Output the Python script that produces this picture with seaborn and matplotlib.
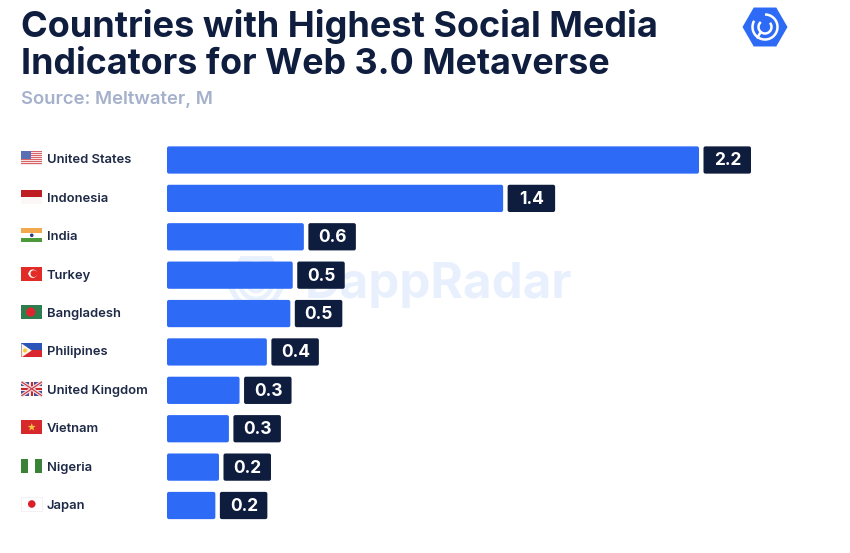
import numpy as np
import pandas as pd
import matplotlib
matplotlib.use("Agg")
import matplotlib.pyplot as plt
from matplotlib.patches import FancyBboxPatch, Rectangle, Circle, Polygon, Arc, RegularPolygon
from matplotlib.transforms import ScaledTranslation
import seaborn as sns

countries = ["United States", "Indonesia", "India", "Turkey", "Bangladesh",
             "Philipines", "United Kingdom", "Vietnam", "Nigeria", "Japan"]
values = [2.2, 1.39, 0.566, 0.52, 0.51, 0.413, 0.30, 0.256, 0.215, 0.2]
value_labels = ["2.2", "1.4", "0.6", "0.5", "0.5", "0.4", "0.3", "0.3", "0.2", "0.2"]
title_lines = ["Countries with Highest Social Media", "Indicators for Web 3.0 Metaverse"]
source = "Source: Meltwater, M"

BLUE = "#2D6BF6"
NAVY = "#0E1C3D"
W, H = 850, 553

sns.set_theme(style="white")
plt.rcParams["font.family"] = ["Inter", "DejaVu Sans"]
fig = plt.figure(figsize=(W / 100, H / 100), dpi=100, facecolor="white")

def px_axes(l, t, r, b):
    return fig.add_axes([l / W, 1 - b / H, (r - l) / W, (b - t) / H])

# background watermark layer
bg = px_axes(0, 0, W, H)
bg.set_xlim(0, W); bg.set_ylim(H, 0); bg.axis("off"); bg.set_zorder(0)
WM = "#E9F0FD"
bg.add_patch(RegularPolygon((256, 283), 6, radius=31, orientation=np.pi / 6, color=WM, lw=0))
for r in (20, 12, 5):
    bg.add_patch(Arc((256, 283), 2 * r, 2 * r, lw=2.5, color="#FFFFFF"))
bg.text(305, 285, "DappRadar", fontsize=35.5, fontweight="bold", color=WM, va="center", ha="left")

# bars
ax = px_axes(167, 140.8, 800, 524.7)
ax.set_zorder(1); ax.patch.set_alpha(0)
df = pd.DataFrame({"country": countries, "value": values})
sns.barplot(data=df, y="country", x="value", color=BLUE, width=0.71, saturation=1,
            orient="h", ax=ax)
ax.set_xlim(0, 2.2 * 633 / 532)
ax.set_xlabel(""); ax.set_ylabel("")
ax.xaxis.set_visible(False)
sns.despine(ax=ax, left=True, bottom=True)
ax.tick_params(axis="y", length=0, pad=86.4)
for lab in ax.get_yticklabels():
    lab.set_ha("left")
    lab.set_fontsize(9.35)
    lab.set_fontweight("semibold")
    lab.set_color("#1F2A47")
    lab.set_transform(lab.get_transform() + ScaledTranslation(0, 1 / 100, fig.dpi_scale_trans))

# overlay in pixel coordinates
ov = px_axes(0, 0, W, H)
ov.set_xlim(0, W); ov.set_ylim(H, 0); ov.axis("off"); ov.set_zorder(2)
to_px = lambda xy: ov.transData.inverted().transform(ax.transData.transform(xy))

def rbox(x0, y0, x1, y1, color, r=2.0):
    ov.add_patch(FancyBboxPatch((x0 + r, y0 + r), x1 - x0 - 2 * r, y1 - y0 - 2 * r,
                                boxstyle=f"round,pad={r},rounding_size={r}",
                                fc=color, ec="none"))

for bar, lab in zip(list(ax.patches)[:len(values)], value_labels):
    b = bar.get_bbox()
    (x0, y0), (x1, y1) = to_px((b.x0, b.y0)), to_px((b.x1, b.y1))
    top, bot = min(y0, y1), max(y0, y1)
    bar.set_visible(False)
    rbox(x0, top, x1, bot, BLUE)
    rbox(x1 + 4.5, top, x1 + 52, bot, NAVY)
    ov.text(x1 + 28.5, (top + bot) / 2 + 1, lab, color="white", fontsize=12.5,
            fontweight="bold", ha="center", va="center")

# flags
def flag(name, yc):
    L, R, T, B = 21.5, 42, yc - 7, yc + 7
    w, h = R - L, B - T
    def rect(x, y, ww, hh, c):
        ov.add_patch(Rectangle((L + x * w, T + y * h), ww * w, hh * h, fc=c, ec="none"))
    if name == "United States":
        for i in range(7):
            rect(0, i / 7, 1, 1 / 14, "#D9646A")
            rect(0, i / 7 + 1 / 14, 1, 1 / 14, "#F6E4E4")
        rect(0, 0, 0.48, 0.52, "#5B6FB5")
    elif name == "Indonesia":
        rect(0, 0, 1, 0.5, "#BE1E23"); rect(0, 0.5, 1, 0.5, "#FBF7F7")
    elif name == "India":
        rect(0, 0, 1, 1 / 3, "#F2A94E"); rect(0, 1 / 3, 1, 1 / 3, "#FFFFFF")
        rect(0, 2 / 3, 1, 1 / 3, "#4C9A3A")
        ov.add_patch(Circle((L + w / 2, yc), 1.8, fc="#2A3C8C", ec="none"))
    elif name == "Turkey":
        rect(0, 0, 1, 1, "#E02B27")
        ov.add_patch(Circle((L + w * 0.55, yc), 4.2, fc="white", ec="none"))
        ov.add_patch(Circle((L + w * 0.60, yc), 3.4, fc="#E02B27", ec="none"))
        ov.add_patch(Circle((L + w * 0.38, yc), 1.1, fc="white", ec="none"))
    elif name == "Bangladesh":
        rect(0, 0, 1, 1, "#2E7D4F")
        ov.add_patch(Circle((L + w * 0.45, yc), 4.6, fc="#E0262C", ec="none"))
    elif name == "Philipines":
        rect(0, 0, 1, 0.5, "#2A55B8"); rect(0, 0.5, 1, 0.5, "#D9252B")
        ov.add_patch(Polygon([(L, T), (L + w * 0.5, yc), (L, B)], fc="#FBF6E6", ec="none"))
        ov.add_patch(Circle((L + w * 0.17, yc), 2, fc="#F5C93C", ec="none"))
    elif name == "United Kingdom":
        rect(0, 0, 1, 1, "#3F4E96")
        ov.plot([L, R], [T, B], color="#F3D9DC", lw=2.6, solid_capstyle="butt")
        ov.plot([L, R], [B, T], color="#F3D9DC", lw=2.6, solid_capstyle="butt")
        ov.plot([L, R], [T, B], color="#C8343E", lw=0.8, solid_capstyle="butt")
        ov.plot([L, R], [B, T], color="#C8343E", lw=0.8, solid_capstyle="butt")
        rect(0.38, 0, 0.24, 1, "#F6E6E8"); rect(0, 0.33, 1, 0.34, "#F6E6E8")
        rect(0.44, 0, 0.12, 1, "#C8262F"); rect(0, 0.41, 1, 0.18, "#C8262F")
    elif name == "Vietnam":
        rect(0, 0, 1, 1, "#D7282C")
        ang = np.pi / 2 + np.arange(10) * np.pi / 5
        rad = np.where(np.arange(10) % 2 == 0, 4.2, 1.7)
        ov.add_patch(Polygon(np.c_[L + w / 2 + rad * np.cos(ang), yc - rad * np.sin(ang)],
                             fc="#F6C33C", ec="none"))
    elif name == "Nigeria":
        rect(0, 0, 1 / 3, 1, "#3A8238"); rect(2 / 3, 0, 1 / 3, 1, "#3A8238")
    elif name == "Japan":
        ov.add_patch(Rectangle((L, T), w, h, fc="white", ec="#F0F0F2", lw=0.6))
        ov.add_patch(Circle((L + w / 2, yc), 3.8, fc="#D7222C", ec="none"))

for i, c in enumerate(countries):
    flag(c, to_px((0, i))[1] - 1.5)

# heading
ov.text(21, 26, title_lines[0], fontsize=26, fontweight="bold", color="#0F1E3F", va="center", ha="left")
ov.text(21, 65, title_lines[1], fontsize=25.8, fontweight="bold", color="#0F1E3F", va="center", ha="left")
ov.text(21, 99, source, fontsize=13.3, fontweight="semibold", color="#A5B1CB", va="center", ha="left")

# logo
ov.add_patch(RegularPolygon((765, 27), 6, radius=22.5, orientation=np.pi / 6, color=BLUE, lw=0))
ov.add_patch(Arc((765, 27), 25, 25, theta1=-90, theta2=210, lw=1.8, color="white"))
ov.add_patch(Arc((765, 27), 13, 13, theta1=-40, theta2=230, lw=1.8, color="white"))
ov.plot([760.8, 757.5], [32, 37.5], color="white", lw=1.8)

fig.savefig("out.png", dpi=100, facecolor="white")
